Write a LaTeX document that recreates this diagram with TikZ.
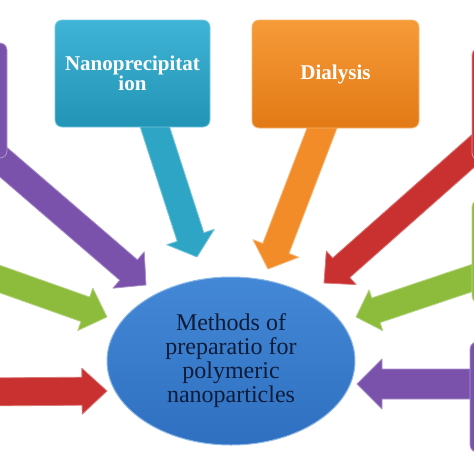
\documentclass[tikz,border=0pt]{standalone}
\usepackage{fontspec}
\setmainfont{Liberation Serif}
\usetikzlibrary{shapes.geometric,calc}
\definecolor{cpurple}{HTML}{7B52AB}
\definecolor{cgreen}{HTML}{8DBB3C}
\definecolor{cred}{HTML}{C8312F}
\definecolor{cteal}{HTML}{2FA5C6}
\definecolor{ctealtop}{HTML}{40B4D6}
\definecolor{ctealbot}{HTML}{2294B6}
\definecolor{corange}{HTML}{F28C28}
\definecolor{corangetop}{HTML}{F69A38}
\definecolor{corangebot}{HTML}{E27A15}
\definecolor{cbluetop}{HTML}{4388D6}
\definecolor{cbluebot}{HTML}{2F70C0}
\definecolor{cnavy}{HTML}{0E1C3A}
\newcommand{\drawblockarrow}[6]{%
  \coordinate (bm) at ($(#3)!#6!(#2)$);
  \filldraw[arrowbody, fill=#1, draw=#1!65!white]
    ($(#2)!#4!90:(#3)$) -- ($(bm)!#4!90:(#3)$) -- ($(bm)!#5!90:(#3)$) -- (#3)
    -- ($(bm)!#5!-90:(#3)$) -- ($(bm)!#4!-90:(#3)$) -- ($(#2)!#4!-90:(#3)$) -- cycle;
}
\tikzset{
  arrowbody/.style={line width=0.8pt, line join=round},
  methodbox/.style={rectangle, rounded corners=7pt, inner sep=2pt, align=center,
    text=white, font=\fontsize{21pt}{20pt}\selectfont\bfseries, line width=0.8pt},
  sidebox/.style={rectangle, rounded corners=7pt, line width=0.8pt},
  hub/.style={ellipse, inner sep=0pt, align=center, text=cnavy,
    font=\fontsize{24pt}{24pt}\selectfont, line width=1pt}
}
\begin{document}
\begin{tikzpicture}[x=1pt,y=-1pt]
\clip (0,0) rectangle (474,474);
\fill[white] (0,0) rectangle (474,474);
% arrow end points
\coordinate (sTeal) at (152,118);   \coordinate (tTeal) at (197,257);
\coordinate (sOrange) at (327,115); \coordinate (tOrange) at (268,269);
\coordinate (sPurL) at (-20,142);   \coordinate (tPurL) at (146,285);
\coordinate (sGreL) at (-20,272);   \coordinate (tGreL) at (107,317);
\coordinate (sRedL) at (-20,392);   \coordinate (tRedL) at (107,391);
\coordinate (sRedR) at (490,136);   \coordinate (tRedR) at (324,283);
\coordinate (sGreR) at (490,272);   \coordinate (tGreR) at (356,317);
\coordinate (sPurR) at (490,384);   \coordinate (tPurR) at (357,384);
% arrows
\drawblockarrow{cteal}{sTeal}{tTeal}{14pt}{25pt}{21pt}
\drawblockarrow{corange}{sOrange}{tOrange}{14pt}{24.5pt}{22pt}
\drawblockarrow{cpurple}{sPurL}{tPurL}{13.5pt}{24pt}{23pt}
\drawblockarrow{cgreen}{sGreL}{tGreL}{13pt}{22.5pt}{23pt}
\drawblockarrow{cred}{sRedL}{tRedL}{14pt}{23pt}{25pt}
\drawblockarrow{cred}{sRedR}{tRedR}{13pt}{22.5pt}{23pt}
\drawblockarrow{cgreen}{sGreR}{tGreR}{13pt}{21.5pt}{21pt}
\drawblockarrow{cpurple}{sPurR}{tPurR}{15pt}{25pt}{25pt}
% boxes
\node[sidebox, minimum width=67pt, minimum height=115pt, fill=cpurple, draw=cpurple!60!white] (boxPurL) at (-26.5,100.5) {};
\node[sidebox, minimum width=88pt, minimum height=112pt, fill=cred, draw=cred!50!white] (boxRedR) at (516,104) {};
\node[sidebox, minimum width=88pt, minimum height=103pt, fill=cgreen, draw=cgreen!60!white] (boxGreR) at (516,251.5) {};
\node[sidebox, minimum width=90pt, minimum height=110pt, fill=cpurple, draw=cpurple!60!white] (boxPurR) at (515,397) {};
\node[methodbox, minimum width=155pt, minimum height=107pt, top color=ctealtop, bottom color=ctealbot, draw=ctealtop!70!white] (nano) at (132.5,73.5) {Nanoprecipitat\\ion};
\node[methodbox, minimum width=167pt, minimum height=108pt, top color=corangetop, bottom color=corangebot, draw=corangetop!70!white] (dial) at (335.5,74) {Dialysis};
% hub
\node[hub, minimum width=248pt, minimum height=168pt, top color=cbluetop, bottom color=cbluebot, draw=cbluetop!60!white] (hub) at (231,361) {Methods of\\preparatio for\\polymeric\\nanoparticles};
\end{tikzpicture}
\end{document}
